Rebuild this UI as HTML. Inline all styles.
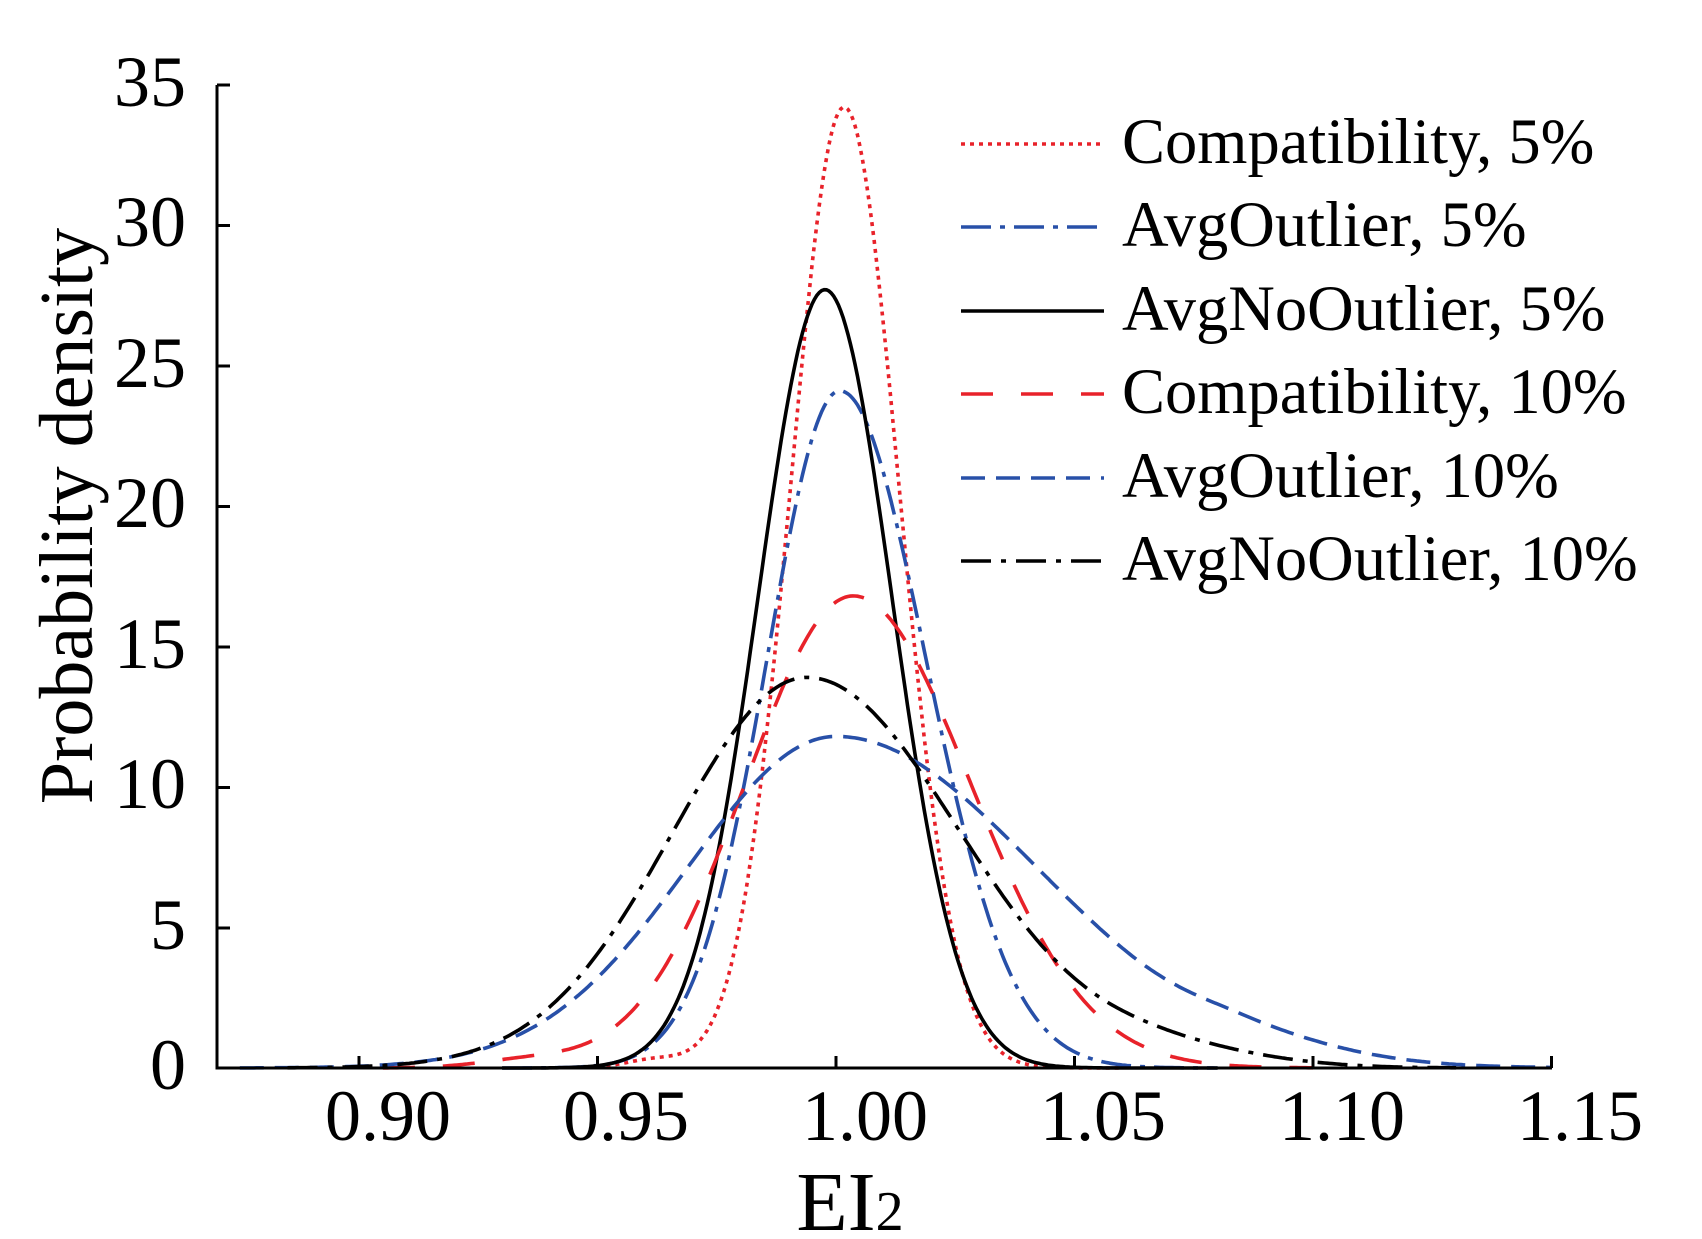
<!DOCTYPE html>
<html><head><meta charset="utf-8"><style>
html,body{margin:0;padding:0;background:#fff;}
svg{display:block;}
text{font-family:"Liberation Serif",serif;fill:#000;}
</style></head><body>
<svg id="s" width="1702" height="1239" viewBox="0 0 1702 1239" xmlns="http://www.w3.org/2000/svg">
<g id="curves" fill="none"></g>
<g stroke="#000" stroke-width="3" fill="none">
<path d="M217 85 V1068 H1552"/>
<path d="M217 85 h13 M217 225.5 h13 M217 366 h13 M217 506.5 h13 M217 647 h13 M217 787.5 h13 M217 928 h13"/>
<path d="M359 1068 v-12 M597.5 1068 v-12 M836 1068 v-12 M1074.5 1068 v-12 M1313 1068 v-12 M1551.5 1068 v-12"/>
</g>
<g font-size="72" text-anchor="end">
<text x="186" y="106">35</text>
<text x="186" y="246">30</text>
<text x="186" y="387">25</text>
<text x="186" y="527">20</text>
<text x="186" y="668">15</text>
<text x="186" y="808">10</text>
<text x="186" y="949">5</text>
<text x="186" y="1089">0</text>
</g>
<g font-size="72" text-anchor="middle">
<text x="388" y="1140">0.90</text>
<text x="626" y="1140">0.95</text>
<text x="865" y="1140">1.00</text>
<text x="1103" y="1140">1.05</text>
<text x="1342" y="1140">1.10</text>
<text x="1580" y="1140">1.15</text>
</g>
<text font-size="76" text-anchor="middle" transform="translate(92,516) rotate(-90)">Probability density</text>
<text x="850" y="1230" font-size="84" text-anchor="middle">EI<tspan font-size="56">2</tspan></text>
<g font-size="64.5">
<text x="1122" y="163">Compatibility, 5%</text>
<text x="1122" y="246">AvgOutlier, 5%</text>
<text x="1122" y="330">AvgNoOutlier, 5%</text>
<text x="1122" y="413">Compatibility, 10%</text>
<text x="1122" y="497">AvgOutlier, 10%</text>
<text x="1122" y="580">AvgNoOutlier, 10%</text>
</g>
<g id="leg" fill="none"></g>
</svg>
<script>
var X=function(v){return 836+(v-1)*4770;};
var Y=function(d){return 1068-d*28.1;};
function sg(v,a,m,sl,sr){var s=v<m?sl:sr;return a*Math.exp(-(v-m)*(v-m)/(2*s*s));}
var series=[
 {c:"#e8222a",dash:"4,5",f:function(v){return sg(v,34.2,1.0017,0.0112,0.0115)+sg(v,0.3,0.962,0.006,0.006);},a:0.95,b:1.06},
 {c:"#2850a8",dash:"30,9,5,9",f:function(v){return sg(v,24.1,1.0008,0.0152,0.018);},a:0.93,b:1.08},
 {c:"#000",dash:"",f:function(v){return sg(v,27.7,0.9977,0.014,0.014);},a:0.93,b:1.08},
 {c:"#e8222a",dash:"32,28",f:function(v){return sg(v,16.8,1.0036,0.0225,0.0245)+sg(v,0.25,0.935,0.01,0.01);},a:0.905,b:1.1},
 {c:"#2850a8",dash:"24,11",f:function(v){return sg(v,11.8,1.0,0.031,0.042)+sg(v,0.4,1.085,0.01,0.02);},a:0.875,b:1.15},
 {c:"#000",dash:"30,10,5,10",f:function(v){return sg(v,13.9,0.9939,0.028,0.032)+sg(v,0.5,1.07,0.015,0.02);},a:0.885,b:1.13}
];
var ns="http://www.w3.org/2000/svg",g=document.getElementById("curves"),lg=document.getElementById("leg");
var ly=[144,227,311,394,478,561];
series.forEach(function(s,i){
 var d="";for(var v=s.a;v<=s.b+1e-9;v+=0.0005){d+=(d?"L":"M")+X(v).toFixed(1)+" "+Y(s.f(v)).toFixed(1);}
 var p=document.createElementNS(ns,"path");p.setAttribute("d",d);p.setAttribute("stroke",s.c);p.setAttribute("stroke-width",3.6);
 if(s.dash)p.setAttribute("stroke-dasharray",s.dash);g.appendChild(p);
 var l=document.createElementNS(ns,"path");l.setAttribute("d","M961 "+ly[i]+" H1104");l.setAttribute("stroke",s.c);l.setAttribute("stroke-width",3.6);
 if(s.dash)l.setAttribute("stroke-dasharray",s.dash);lg.appendChild(l);
});
</script>
</body></html>
